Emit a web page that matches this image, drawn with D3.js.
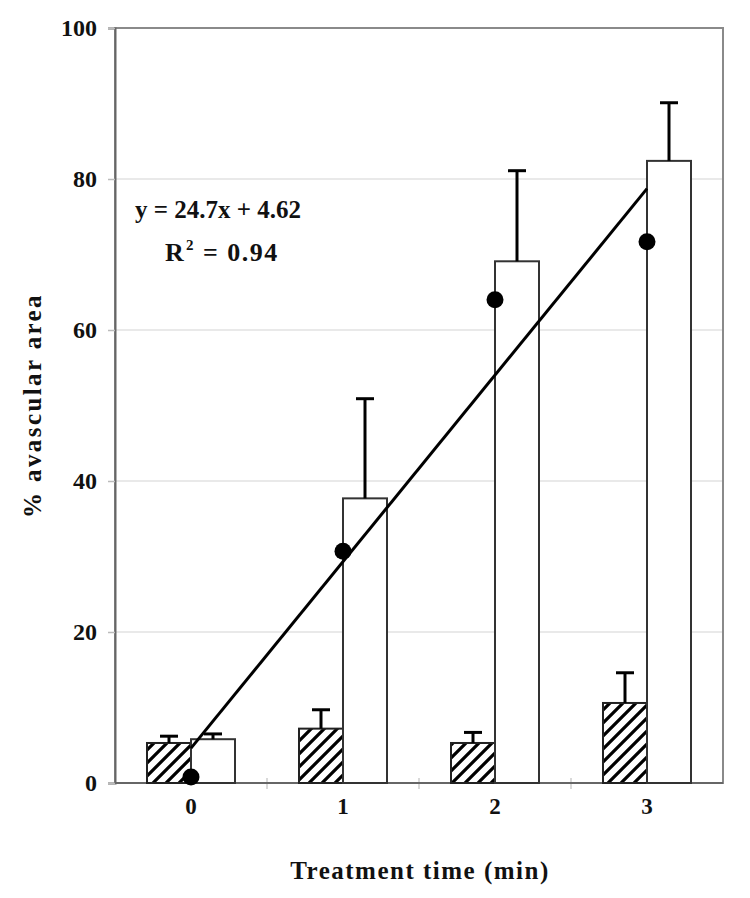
<!DOCTYPE html>
<html>
<head>
<meta charset="utf-8">
<script src="https://cdn.jsdelivr.net/npm/d3@7"></script>
<style>
  body { margin: 0; background: #fff; }
  svg text { font-family: "Liberation Serif", "Times New Roman", serif; font-weight: bold; fill: #111; }
</style>
</head>
<body>
<div id="chart"></div>
<script>
// data
const categories = ['0', '1', '2', '3'];
const hatchedVals = [5.3, 7.2, 5.3, 10.6];
const hatchedErr = [0.9, 2.5, 1.4, 4.0];
const openVals = [5.8, 37.7, 69.1, 82.4];
const openErr = [0.7, 13.2, 12.0, 7.7];
const dotVals = [0.8, 30.7, 64.0, 71.7];
const yTicks = [0, 20, 40, 60, 80, 100];
const fitSlope = 24.7;
const fitIntercept = 4.62;

const width = 750;
const height = 898;
const plotLeft = 115, plotRight = 723, plotTop = 28, plotBottom = 783;

const svg = d3.select('#chart')
              .append('svg')
                .attr('width', width)
                .attr('height', height);

// hatch pattern
svg.append('defs')
   .append('pattern')
     .attr('id', 'hatch')
     .attr('patternUnits', 'userSpaceOnUse')
     .attr('width', 13)
     .attr('height', 13)
   .append('path')
     .attr('d', 'M0,13 L13,0 M-4,4 L4,-4 M9,17 L17,9')
     .attr('stroke', '#000')
     .attr('stroke-width', 3.2);

const xScale = d3.scaleBand()
                 .domain(categories)
                 .range([plotLeft, plotRight]);

const yScale = d3.scaleLinear()
                 .domain([0, 100])
                 .range([plotBottom, plotTop]);

const barW = 44;

// gridlines
svg.append('g')
   .selectAll('line')
   .data(yTicks.filter(t => t > 0 && t < 100))
   .enter()
     .append('line')
       .attr('x1', plotLeft)
       .attr('x2', plotRight)
       .attr('y1', d => yScale(d))
       .attr('y2', d => yScale(d))
       .attr('stroke', '#e2e2e2')
       .attr('stroke-width', 1.5);

// frame
svg.append('rect')
   .attr('x', plotLeft)
   .attr('y', plotTop)
   .attr('width', plotRight - plotLeft)
   .attr('height', plotBottom - plotTop)
   .attr('fill', 'none')
   .attr('stroke', '#8a8a8a')
   .attr('stroke-width', 2);

// y axis
const yAxis = svg.append('g')
                 .attr('transform', `translate(${plotLeft}, 0)`)
                 .call(d3.axisLeft(yScale).tickValues(yTicks).tickSize(7).tickPadding(11));
yAxis.select('.domain').attr('stroke', '#666').attr('stroke-width', 2);
yAxis.selectAll('.tick line').attr('stroke', '#bbb').attr('stroke-width', 1.5);
yAxis.selectAll('text')
     .attr('font-size', 24)
     .attr('fill', '#111');

// x axis: category labels, small ticks at boundaries
svg.append('g')
   .selectAll('line')
   .data(categories.slice(1))
   .enter()
     .append('line')
       .attr('x1', d => xScale(d))
       .attr('x2', d => xScale(d))
       .attr('y1', plotBottom - 5)
       .attr('y2', plotBottom + 6)
       .attr('stroke', '#ccc')
       .attr('stroke-width', 1.5);

svg.append('line')
   .attr('x1', plotLeft).attr('x2', plotRight)
   .attr('y1', plotBottom).attr('y2', plotBottom)
   .attr('stroke', '#666').attr('stroke-width', 2);

svg.append('g')
   .selectAll('text')
   .data(categories)
   .enter()
     .append('text')
       .attr('x', d => xScale(d) + xScale.bandwidth() / 2)
       .attr('y', plotBottom + 31)
       .attr('text-anchor', 'middle')
       .attr('font-size', 23)
       .text(d => d);

// bars
const groups = svg.append('g')
                  .selectAll('g')
                  .data(categories)
                  .enter()
                    .append('g');

const center = (d) => xScale(d) + xScale.bandwidth() / 2;

// hatched bars
groups.append('rect')
      .attr('x', d => center(d) - barW)
      .attr('y', (d, i) => yScale(hatchedVals[i]))
      .attr('width', barW)
      .attr('height', (d, i) => plotBottom - yScale(hatchedVals[i]))
      .attr('fill', 'url(#hatch)')
      .attr('stroke', '#222')
      .attr('stroke-width', 2);

// open bars
groups.append('rect')
      .attr('x', d => center(d))
      .attr('y', (d, i) => yScale(openVals[i]))
      .attr('width', barW)
      .attr('height', (d, i) => plotBottom - yScale(openVals[i]))
      .attr('fill', '#fff')
      .attr('stroke', '#333')
      .attr('stroke-width', 2);

// error bars (upper only)
function errorBar(sel, vals, errs, offset) {
    sel.append('line')
       .attr('x1', d => center(d) + offset)
       .attr('x2', d => center(d) + offset)
       .attr('y1', (d, i) => yScale(vals[i]))
       .attr('y2', (d, i) => yScale(vals[i] + errs[i]))
       .attr('stroke', '#000')
       .attr('stroke-width', 3);
    sel.append('line')
       .attr('x1', d => center(d) + offset - 9)
       .attr('x2', d => center(d) + offset + 9)
       .attr('y1', (d, i) => yScale(vals[i] + errs[i]))
       .attr('y2', (d, i) => yScale(vals[i] + errs[i]))
       .attr('stroke', '#000')
       .attr('stroke-width', 3);
}
errorBar(groups, hatchedVals, hatchedErr, -barW / 2);
errorBar(groups, openVals, openErr, barW / 2);

// regression line
const x0 = 0, x1 = categories.length - 1;
svg.append('line')
   .attr('x1', center(categories[x0]))
   .attr('y1', yScale(fitSlope * x0 + fitIntercept))
   .attr('x2', center(categories[x1]))
   .attr('y2', yScale(fitSlope * x1 + fitIntercept))
   .attr('stroke', '#000')
   .attr('stroke-width', 3);

// dots
groups.append('circle')
      .attr('cx', d => center(d))
      .attr('cy', (d, i) => yScale(dotVals[i]))
      .attr('r', 8.5)
      .attr('fill', '#000');

// equation
svg.append('text')
   .attr('x', 135)
   .attr('y', 218)
   .attr('font-size', 25)
   .text('y = 24.7x + 4.62');

const r2 = svg.append('text')
              .attr('y', 261)
              .attr('font-size', 26);
r2.append('tspan').attr('x', 165).text('R');
r2.append('tspan').attr('x', 186).attr('dy', -11).attr('font-size', 15).text('2');
r2.append('tspan').attr('x', 203).attr('dy', 11).attr('letter-spacing', 1.5).text('= 0.94');

// axis titles
svg.append('text')
   .attr('transform', `translate(41, ${(plotTop + plotBottom) / 2}) rotate(-90)`)
   .attr('text-anchor', 'middle')
   .attr('font-size', 25)
   .attr('letter-spacing', 2.4)
   .text('% avascular area');

svg.append('text')
   .attr('x', 420)
   .attr('y', 879)
   .attr('text-anchor', 'middle')
   .attr('font-size', 25)
   .attr('letter-spacing', 1.5)
   .text('Treatment time (min)');
</script>
</body>
</html>
